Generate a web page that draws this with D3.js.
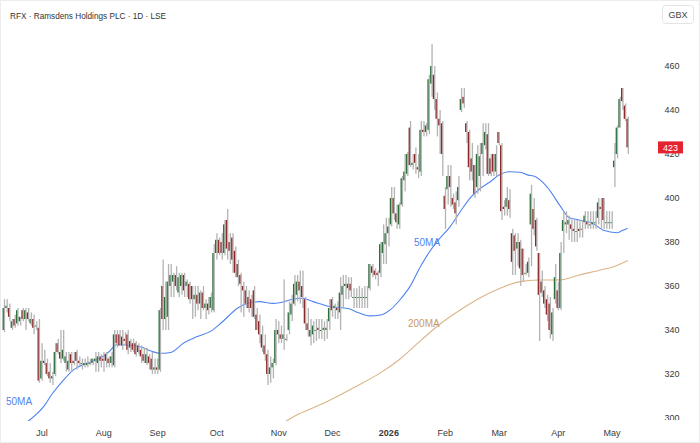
<!DOCTYPE html>
<html>
<head>
<meta charset="utf-8">
<script src="https://cdn.jsdelivr.net/npm/d3@7"></script>
<style>
  html, body { margin: 0; padding: 0; background: #fff; }
  svg { display: block; font-family: "Liberation Sans", Arial, sans-serif; }
</style>
</head>
<body>
<svg id="chart" width="700" height="443"></svg>
<script>
// daily candles, index 1 = first visible session (mid June 2025)
const firstIdx = 1;
const open = [
  340,350,350,341,345,343,344,349,345,348, 343,345,342,341,318,326,325,321,318,320,
  334,330,327,325,322,329,326,330,326,325, 324,324,325,325,326,325,328,327,329,327,
  325,324,338,338,337,336,338,335,334,334, 333,331,329,325,328,327,322,323,322,360,
  345,346,360,362,365,357,360,365,360,361, 360,354,356,352,357,350,352,350,349,375,
  381,380,375,390,380,382,376,370,365,360, 358,355,354,358,347,344,338,333,329,320,
  323,325,340,338,336,336,340,347,352,356, 362,360,354,343,337,338,340,341,340,340,
  340,344,354,350,350,348,356,360,361,361, 355,355,355,355,355,355,359,369,367,366,
  366,375,379,384,388,400,393,388,397,408, 411,432,415,420,414,412,431,430,431,452,
  456,445,436,434,401,404,410,400,398,399, 440,446,434,430,418,415,405,410,420,424,
  429,418,420,412,430,424,396,396,399,384, 383,377,380,377,366,366,388,395,390,375,
  362,358,354,352,338,354,358,350,385,388, 388,388,386,385,386,386,389,389,388,388,
  389,391,396,400,389,389,389,414,420,432, 450,442,436
];
const high = [
  354,354,352,345,347,350,346,350,350,350, 348,347,344,345,334,331,327,325,321,334,
  336,340,340,330,330,330,330,331,328,327, 327,328,327,327,330,330,329,330,330,328,
  330,340,340,340,340,339,340,336,336,335, 334,333,332,332,329,330,327,327,350,372,
  362,370,370,366,369,366,366,366,363,362, 360,360,360,358,360,354,355,357,379,384,
  382,384,390,395,384,384,378,372,366,362, 360,358,356,360,350,347,342,338,331,328,
  327,345,344,342,363,338,353,356,365,365, 367,367,355,350,345,344,345,345,345,344,
  345,354,355,352,353,364,365,365,364,364, 359,359,360,359,360,360,370,370,368,367,
  380,388,391,391,405,405,397,398,410,420, 421,435,420,423,420,435,435,434,456,470,
  460,448,440,435,405,415,415,402,403,410, 450,450,435,431,425,415,424,425,434,434,
  434,420,420,424,430,425,399,405,404,386, 384,384,381,377,370,373,406,400,391,375,
  367,360,356,355,350,370,362,380,394,394, 392,391,390,390,390,390,394,394,394,394,
  394,400,400,400,394,394,394,425,433,446, 450,443,437
];
const low = [
  339,348,344,340,341,342,342,344,340,344, 342,338,340,316,317,324,319,316,315,319,
  329,325,326,321,321,321,324,322,324,322, 323,323,324,324,321,321,323,321,323,323,
  323,323,332,333,331,333,329,330,330,328, 329,325,325,324,322,320,320,320,321,340,
  340,340,355,355,358,355,356,355,355,352, 345,346,349,345,349,345,347,348,348,372,
  374,372,374,372,370,366,364,360,348,346, 350,348,346,345,340,334,330,326,315,316,
  318,324,334,334,331,335,338,344,351,353, 352,350,340,337,333,334,335,336,336,335,
  336,340,346,345,345,340,350,354,354,355, 350,350,350,350,350,350,358,364,363,360,
  364,370,370,378,387,390,386,386,396,403, 410,414,413,411,409,410,428,428,429,446,
  440,428,420,410,386,397,396,395,388,396, 439,441,425,408,408,400,402,403,410,422,
  410,410,410,410,424,390,392,392,391,365, 365,369,360,362,365,364,369,383,376,335,
  355,350,344,336,335,352,349,349,375,384, 381,380,380,380,382,382,386,386,386,386,
  386,388,386,386,386,386,386,405,418,432, 440,435,420
];
const close = [
  350,351,346,344,342,349,346,345,349,345, 345,341,342,317,326,325,320,318,319,330,
  330,327,331,328,326,325,325,326,325,325, 325,325,325,327,327,328,326,326,326,325,
  328,338,334,333,333,335,331,332,331,329, 330,328,326,329,325,322,323,322,349,345,
  355,362,365,365,360,364,365,358,362,354, 354,356,352,357,350,352,349,355,375,381,
  375,375,388,377,376,372,366,364,361,358, 352,350,350,346,340,338,332,329,320,323,
  325,340,338,336,338,336,348,352,361,362, 358,355,343,340,340,342,340,340,340,341,
  341,350,349,351,349,357,360,361,359,358, 355,355,355,355,355,355,370,366,365,365,
  379,380,384,387,400,393,389,397,409,412, 420,415,416,416,413,431,430,433,454,460,
  445,436,433,420,395,410,405,397,393,405, 445,443,430,414,412,402,420,419,425,430,
  411,411,412,420,425,394,395,400,395,371, 376,380,368,365,366,371,402,386,378,356,
  357,352,347,340,348,364,350,375,390,389, 390,386,385,385,385,386,392,388,388,389,
  389,398,395,390,389,389,389,417,432,445, 444,436,423
];

// moving averages (session index, value)
const ma50Idx = [10,16,19,23,27,32,37,40,43,47,52,56,59,63,68,73,78,82,88,92,96,101,104,108,112,116,122,129,133,137,141,145,148,152,156,159,163,167,171,174,178,182,185,189,193,196,198,203,208,211,215,220,224,229,231,233];
const ma50Val = [298.5,305.5,311,317,322,325,327.3,330,333.3,333.2,332.3,330.3,329.4,329.8,334.2,337,339.5,343.4,350,352.3,352.9,352.1,352.5,353.9,354.4,352.9,350.7,349.8,347.8,346.4,346.8,349.5,353.3,359.7,369,375,381.5,387,394.3,399.4,404.2,407.5,410.3,411.9,411.7,410.4,410,405.1,396.2,391.3,390,388.5,385.3,384.2,385.2,386.2];
const ma200Idx = [106,111,119,126,133,141,148,156,163,171,178,186,193,200,208,215,223,228,233];
const ma200Val = [298.6,302,306.2,310.5,315,320.5,326.5,335.2,342.5,349.3,354.5,359.2,362,362.7,362.8,365,367.3,368.9,371.6];

const monthLabels = ["Jul","Aug","Sep","Oct","Nov","Dec","2026","Feb","Mar","Apr","May"];
const monthIdx = [15,38,58,80,103,123,144,165,185,207,227];
const priceTicks = [300,320,340,360,380,400,420,440,460];
const lastPrice = 423;

const W = 700, H = 443;
const plotW = 657, plotH = 421;
const upColor = "#2f6e3d", downColor = "#8a2b2b", wickColor = "#b3b3b3";

const svg = d3.select("#chart");

const x = d3.scaleLinear().domain([0, 244]).range([1.16, 1.16 + 2.689 * 244]);
const y = d3.scaleLinear().domain([300, 460]).range([418, 66]);

const defs = svg.append("defs");
defs.append("clipPath").attr("id", "plotclip")
  .append("rect").attr("x", 0).attr("y", 0).attr("width", plotW).attr("height", plotH);
defs.append("clipPath").attr("id", "axisclip")
  .append("rect").attr("x", plotW).attr("y", 0).attr("width", W - plotW).attr("height", plotH - 1);

const candles = open.map((o, k) => ({ i: firstIdx + k, o: o, h: high[k], l: low[k], c: close[k] }));

const plot = svg.append("g").attr("clip-path", "url(#plotclip)");

// moving averages
const line = d3.line().x(d => x(d[0])).y(d => y(d[1])).curve(d3.curveMonotoneX);
plot.append("path")
  .datum(ma200Idx.map((d, k) => [d, ma200Val[k]]))
  .attr("d", line).attr("fill", "none").attr("stroke", "#dcb488").attr("stroke-width", 1.1);
plot.append("path")
  .datum(ma50Idx.map((d, k) => [d, ma50Val[k]]))
  .attr("d", line).attr("fill", "none").attr("stroke", "#4f83f2").attr("stroke-width", 1.1);

// candles: grey wick beside a thin coloured body
const cw = 1.3;
plot.selectAll("rect.wick").data(candles).join("rect")
  .attr("class", "wick")
  .attr("x", d => x(d.i))
  .attr("width", cw)
  .attr("y", d => y(d.h))
  .attr("height", d => Math.max(1, y(d.l) - y(d.h)))
  .attr("fill", wickColor);
plot.selectAll("rect.body").data(candles).join("rect")
  .attr("class", "body")
  .attr("x", d => x(d.i) - cw)
  .attr("width", cw)
  .attr("y", d => y(Math.max(d.o, d.c)))
  .attr("height", d => Math.max(1, Math.abs(y(d.o) - y(d.c))))
  .attr("fill", d => d.c >= d.o ? upColor : downColor);

// MA labels
plot.append("text").attr("x", 6).attr("y", 405).attr("fill", "#4f83f2")
  .attr("font-size", 10).text("50MA");
plot.append("text").attr("x", 414).attr("y", 246).attr("fill", "#4f83f2")
  .attr("font-size", 10).text("50MA");
plot.append("text").attr("x", 408).attr("y", 327).attr("fill", "#c99a62")
  .attr("font-size", 10).text("200MA");

// price axis (clipped above the time axis, like the reference)
const yAxis = svg.append("g").attr("clip-path", "url(#axisclip)")
  .append("g")
  .attr("transform", "translate(672,0)")
  .call(d3.axisRight(y).tickValues(priceTicks).tickSize(0).tickPadding(0));
yAxis.select(".domain").remove();
yAxis.selectAll("text")
  .attr("text-anchor", "middle").attr("x", 0).attr("dy", "0.33em")
  .attr("font-size", 9).attr("font-family", "Liberation Sans, Arial, sans-serif")
  .attr("fill", "#3a3a3a");

// last price tag
svg.append("rect").attr("x", 658).attr("y", y(lastPrice) - 6).attr("width", 25).attr("height", 12)
  .attr("fill", "#e5232f");
svg.append("text").attr("x", 670.5).attr("y", y(lastPrice)).attr("dy", "0.35em")
  .attr("text-anchor", "middle").attr("font-size", 9).attr("fill", "#fff").text(lastPrice);

// time axis
const xAxis = svg.append("g")
  .attr("transform", `translate(0,${plotH})`)
  .call(d3.axisBottom(x).tickValues(monthIdx).tickFormat((d, k) => monthLabels[k]).tickSize(0).tickPadding(0));
xAxis.select(".domain").remove();
xAxis.selectAll("text")
  .attr("y", 15)
  .attr("dy", 0)
  .attr("font-size", 9).attr("font-family", "Liberation Sans, Arial, sans-serif")
  .attr("fill", "#3a3a3a")
  .attr("font-weight", (d, k) => monthLabels[k] === "2026" ? "bold" : null);

// header
svg.append("text").attr("x", 10).attr("y", 19)
  .attr("font-size", 9.5).attr("fill", "#333")
  .attr("textLength", 156).attr("lengthAdjust", "spacingAndGlyphs")
  .text("RFX \u00b7 Ramsdens Holdings PLC \u00b7 1D \u00b7 LSE");

svg.append("rect").attr("x", 662.5).attr("y", 5.5).attr("width", 31).attr("height", 18).attr("rx", 3)
  .attr("fill", "#fff").attr("stroke", "#e3e3e3");
svg.append("text").attr("x", 678).attr("y", 17.5).attr("text-anchor", "middle")
  .attr("font-size", 9).attr("fill", "#444").text("GBX");

// outer frame
svg.append("rect").attr("x", 0.5).attr("y", 0.5).attr("width", W - 1).attr("height", H - 1)
  .attr("fill", "none").attr("stroke", "#ececec");
</script>
</body>
</html>
